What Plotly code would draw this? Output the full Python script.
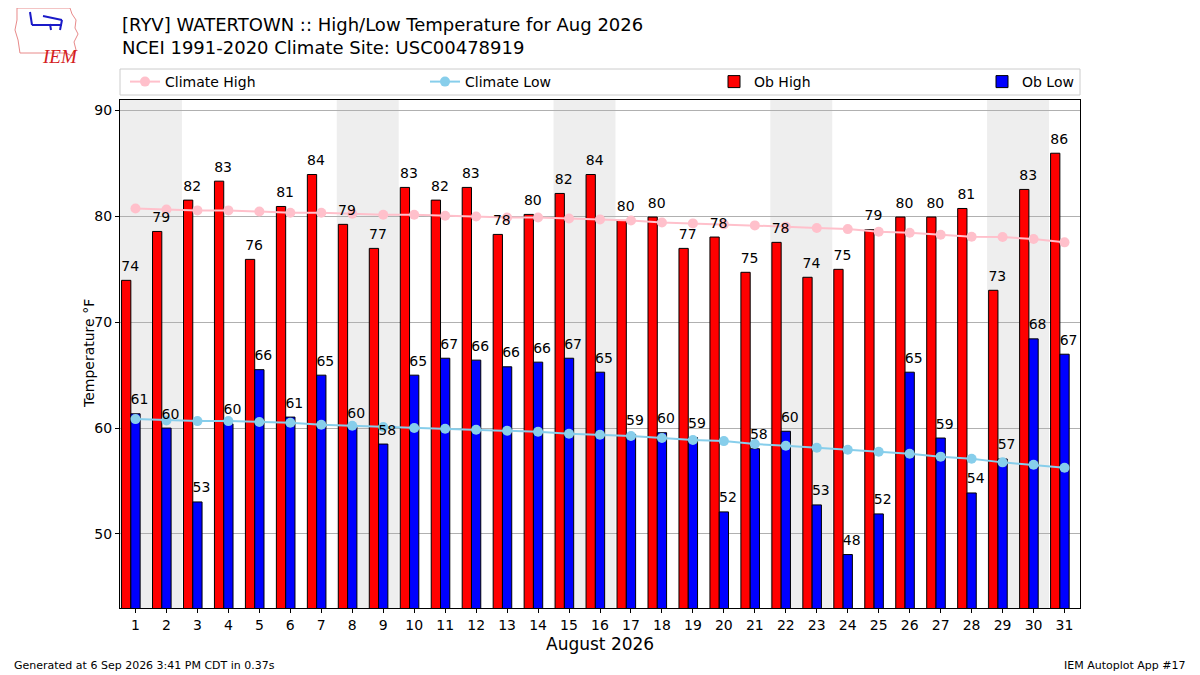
import datetime
import plotly.graph_objects as go

# Daily observed values, August 2026 (deg F)
days = list(range(1, 32))
ob_high = [73.96, 78.58, 81.54, 83.33, 75.94, 80.94, 83.96, 79.25, 76.98, 82.74,
           81.54, 82.74, 78.30, 80.19, 82.17, 83.96, 79.62, 79.94, 76.98, 78.05,
           74.72, 77.55, 74.25, 75.00, 78.74, 79.94, 79.94, 80.75, 73.02, 82.55,
           85.97]
ob_low = [61.35, 60.00, 53.02, 60.40, 65.52, 61.04, 65.00, 60.10, 58.49, 65.00,
          66.60, 66.42, 65.79, 66.23, 66.60, 65.28, 59.40, 59.56, 59.10, 52.08,
          58.05, 59.70, 52.74, 48.05, 51.89, 65.28, 59.06, 53.87, 57.08, 68.43,
          66.98]

# NCEI 1991-2020 daily normals
clim_high = [80.75, 80.66, 80.57, 80.57, 80.47, 80.35, 80.35, 80.25, 80.16, 80.16,
             80.06, 80.00, 79.90, 79.90, 79.81, 79.72, 79.62, 79.43, 79.34, 79.25,
             79.15, 79.03, 78.90, 78.80, 78.55, 78.46, 78.27, 78.08, 78.05, 77.86,
             77.55]
clim_low = [60.85, 60.72, 60.66, 60.66, 60.57, 60.50, 60.31, 60.22, 60.10, 60.00,
            59.94, 59.84, 59.75, 59.65, 59.47, 59.37, 59.25, 59.06, 58.87, 58.77,
            58.49, 58.33, 58.14, 57.96, 57.77, 57.58, 57.30, 57.11, 56.76, 56.54,
            56.26]

title1 = "[RYV] WATERTOWN :: High/Low Temperature for Aug 2026"
title2 = "NCEI 1991-2020 Climate Site: USC00478919"

FONT = "DejaVu Sans"
# the page body adds an 8px margin, so the figure is drawn 8px smaller
OFF = 8
W, H = 1200 - OFF, 675 - OFF
L, R, T, B = 120 - OFF, 120, 100 - OFF, 67
PW, PH = W - L - R, H - T - B
BW = 0.3  # bar width in days


def px(x):
    # reference-picture pixel -> paper x
    return (x - OFF - L) / PW


def py(y):
    # reference-picture pixel -> paper y
    return (H - B - (y - OFF)) / PH


fig = go.Figure()

fig.add_trace(go.Bar(
    x=days, y=ob_high, width=BW, offset=-1.5 * BW,
    marker=dict(color="red", line=dict(color="black", width=1)),
    name="Ob High", legend="legend3",
))
fig.add_trace(go.Bar(
    x=days, y=ob_low, width=BW, offset=-0.5 * BW,
    marker=dict(color="blue", line=dict(color="black", width=1)),
    name="Ob Low", legend="legend4",
))
fig.add_trace(go.Scatter(
    x=days, y=clim_high, mode="lines+markers",
    line=dict(color="pink", width=2), marker=dict(color="pink", size=10),
    name="Climate High", legend="legend",
))
fig.add_trace(go.Scatter(
    x=days, y=clim_low, mode="lines+markers",
    line=dict(color="skyblue", width=2), marker=dict(color="skyblue", size=10),
    name="Climate Low", legend="legend2",
))

# value labels, starting near each bar's left edge, drawn on top
for vals, off in [(ob_high, -1.5 * BW), (ob_low, -0.5 * BW)]:
    fig.add_trace(go.Scatter(
        x=[d + off + 0.28 for d in days], y=vals, mode="markers+text",
        marker=dict(size=8, opacity=0),
        text=[f"{v:.0f}" for v in vals], textposition="top center",
        textfont=dict(family=FONT, size=14, color="black"),
        showlegend=False, hoverinfo="skip", cliponaxis=False,
    ))

# weekend shading, consecutive weekend days merged into one band
shapes = []
weekend = [d for d in days if datetime.date(2026, 8, d).weekday() >= 5]
bands = []
for d in weekend:
    if bands and bands[-1][1] == d - 1:
        bands[-1][1] = d
    else:
        bands.append([d, d])
for a, b in bands:
    shapes.append(dict(type="rect", xref="x", yref="paper", x0=a - 0.5, x1=b + 0.5,
                       y0=0, y1=1, fillcolor="#eeeeee", line=dict(width=0),
                       layer="below"))

# legend frame
shapes.append(dict(type="rect", xref="paper", yref="paper", x0=0, x1=1,
                   y0=py(95), y1=py(69), line=dict(color="#cccccc", width=1),
                   fillcolor="white", layer="below"))

# rough IEM logo outline
logo = [(17, 8), (70, 8), (72, 14), (76, 20), (75, 28), (78, 34), (74, 42),
        (76, 50), (72, 56), (66, 53), (20, 53), (18, 40), (15, 30), (17, 20)]
path = "M " + " L ".join(f"{px(x):.4f},{py(y):.4f}" for x, y in logo) + " Z"
shapes.append(dict(type="path", xref="paper", yref="paper", path=path,
                   line=dict(color="#e88a8a", width=1)))
for (x0, y0, x1, y1) in [(32, 25, 62, 25), (43, 16, 62, 20), (62, 20, 60, 30),
                         (50, 24, 51, 30), (30, 12, 32, 25)]:
    shapes.append(dict(type="line", xref="paper", yref="paper",
                       x0=px(x0), y0=py(y0), x1=px(x1), y1=py(y1),
                       line=dict(color="#1a1ac8", width=2)))

leg = dict(orientation="h", yanchor="middle", xanchor="left", y=py(82),
           bgcolor="rgba(0,0,0,0)", borderwidth=0,
           font=dict(family=FONT, size=14, color="black"))

annotations = [
    dict(text=title1, x=0, y=py(24), xref="paper", yref="paper", xanchor="left",
         yanchor="middle", showarrow=False, font=dict(family=FONT, size=18, color="black")),
    dict(text=title2, x=0, y=py(48), xref="paper", yref="paper", xanchor="left",
         yanchor="middle", showarrow=False, font=dict(family=FONT, size=18, color="black")),
    dict(text="Temperature °F", x=px(79), y=0.5, xref="paper", yref="paper",
         textangle=-90, showarrow=False, font=dict(family=FONT, size=14, color="black")),
    dict(text="August 2026", x=0.5, y=py(644), xref="paper", yref="paper",
         yanchor="middle", showarrow=False, font=dict(family=FONT, size=17, color="black")),
    dict(text="Generated at 6 Sep 2026 3:41 PM CDT in 0.37s", x=px(12), y=py(665),
         xref="paper", yref="paper", xanchor="left", yanchor="middle", showarrow=False,
         font=dict(family=FONT, size=11, color="black")),
    dict(text="IEM Autoplot App #17", x=px(1188), y=py(665), xref="paper", yref="paper",
         xanchor="right", yanchor="middle", showarrow=False,
         font=dict(family=FONT, size=11, color="black")),
    dict(text="<i>IEM</i>", x=px(40), y=py(44), xref="paper", yref="paper",
         showarrow=False, font=dict(family="Liberation Serif", size=19, color="#d42020")),
]

fig.update_layout(
    width=W, height=H,
    margin=dict(l=L, r=R, t=T, b=B),
    paper_bgcolor="white", plot_bgcolor="rgba(0,0,0,0)",
    barmode="overlay",
    font=dict(family=FONT, size=14, color="black"),
    showlegend=True,
    legend=dict(leg, x=px(125)),
    legend2=dict(leg, x=px(425)),
    legend3=dict(leg, x=px(714)),
    legend4=dict(leg, x=px(982)),
    shapes=shapes,
    annotations=annotations,
    xaxis=dict(range=[0.5, 31.5], tickmode="linear", tick0=1, dtick=1,
               showgrid=False, zeroline=False, showline=True, linecolor="black",
               linewidth=1, mirror=True, ticks="outside", ticklen=4,
               tickcolor="black", tickfont=dict(family=FONT, size=14)),
    yaxis=dict(range=[43, 91], tickvals=[50, 60, 70, 80, 90], showgrid=True,
               gridcolor="#b0b0b0", gridwidth=1, zeroline=False, showline=True,
               linecolor="black", linewidth=1, mirror=True, ticks="outside",
               ticklen=4, tickcolor="black", tickfont=dict(family=FONT, size=14)),
)

fig.write_html("out.html")
